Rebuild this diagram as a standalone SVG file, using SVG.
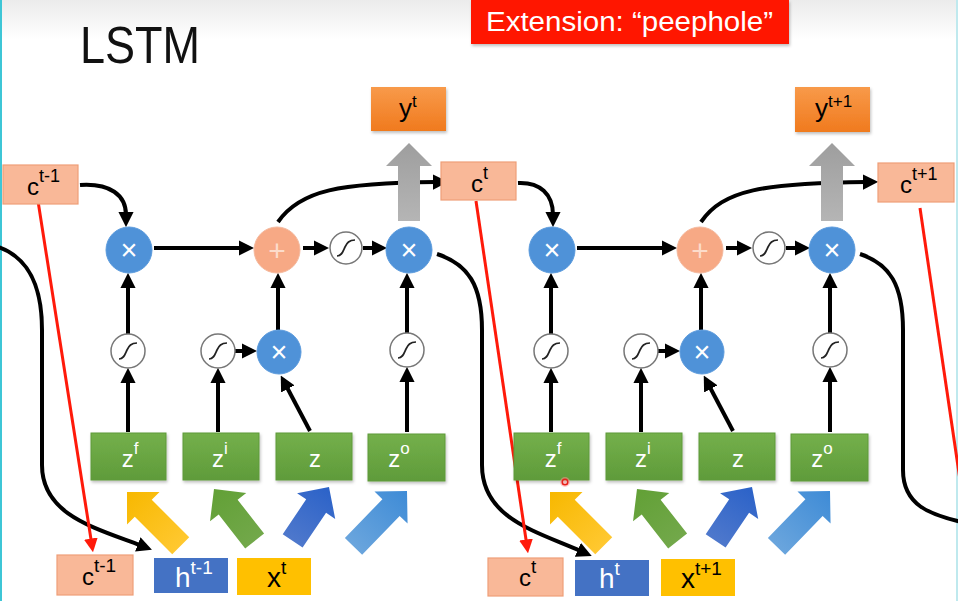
<svg xmlns="http://www.w3.org/2000/svg" width="958" height="601" viewBox="0 0 958 601">
<defs>
<style>
text{font-family:"Liberation Sans",Arial,sans-serif}
.conn{fill:none;stroke:#000;stroke-width:4;marker-end:url(#ah)}
.cnoarrow{fill:none;stroke:#000;stroke-width:4}
.red{fill:none;stroke:#FF1A0A;stroke-width:3;marker-end:url(#rh)}
.mul circle{fill:#4F92D8;stroke:#5C9BDD;stroke-width:1}
.mul text{fill:#fff;font-size:29px;text-anchor:middle}
.plus circle{fill:#F7A985;stroke:#F4B99E;stroke-width:1}
.plus text{fill:#FCDCCB;font-size:30px;text-anchor:middle}
.sig circle{fill:#fff;stroke:#777;stroke-width:1.5}
.gbox rect{fill:url(#gGreen);stroke:#5E9A3A;stroke-width:1;filter:url(#sh)}
.gbox text{fill:#fff;font-size:24px;text-anchor:middle}
.cbox rect{fill:#F9B898;stroke:#EE9E78;stroke-width:1.2}
.cbox text{fill:#000;font-size:24px}
.gray{fill:url(#gGray)}
</style>
<marker id="ah" viewBox="0 0 10 10" refX="2" refY="5" markerWidth="3.8" markerHeight="3.8" orient="auto"><path d="M0,0 L10,5 L0,10 z" fill="#000"/></marker>
<marker id="rh" viewBox="0 0 10 10" refX="2" refY="5" markerWidth="4.6" markerHeight="4.6" orient="auto"><path d="M0,0 L10,5 L0,10 z" fill="#FF1A0A"/></marker>
<linearGradient id="gGreen" x1="0" y1="0" x2="0" y2="1"><stop offset="0" stop-color="#74B04B"/><stop offset="1" stop-color="#5F9B3A"/></linearGradient>
<linearGradient id="gGray" x1="0" y1="0" x2="0" y2="1"><stop offset="0" stop-color="#9E9E9E"/><stop offset="1" stop-color="#B5B5B5"/></linearGradient>
<linearGradient id="gOrange" x1="0" y1="0" x2="0" y2="1"><stop offset="0" stop-color="#F89A4A"/><stop offset="1" stop-color="#F07A1E"/></linearGradient>
<linearGradient id="gTop" x1="0" y1="0" x2="0" y2="1"><stop offset="0" stop-color="#EBEBEB"/><stop offset="1" stop-color="#FFFFFF"/></linearGradient>
<linearGradient id="gYel" x1="0" y1="0" x2="0" y2="1"><stop offset="0" stop-color="#F7B800"/><stop offset="1" stop-color="#FFC830"/></linearGradient>
<linearGradient id="gGrn" x1="0" y1="0" x2="0" y2="1"><stop offset="0" stop-color="#62A036"/><stop offset="1" stop-color="#72A84A"/></linearGradient>
<linearGradient id="gDB" x1="0" y1="0" x2="0" y2="1"><stop offset="0" stop-color="#2B62C8"/><stop offset="1" stop-color="#4E78CC"/></linearGradient>
<linearGradient id="gLB" x1="0" y1="0" x2="0" y2="1"><stop offset="0" stop-color="#3E8BD6"/><stop offset="1" stop-color="#6AA5DD"/></linearGradient>
<filter id="sh" x="-10%" y="-10%" width="130%" height="140%"><feDropShadow dx="1" dy="2" stdDeviation="1.5" flood-color="#000" flood-opacity="0.25"/></filter>
<path id="sigS" d="M-9,8 C-4,8 -3,3 -1,-1 C1,-5 3,-8 9,-8" fill="none" stroke="#222" stroke-width="1.7"/>
</defs>

<!-- background -->
<rect x="0" y="0" width="958" height="601" fill="#fff"/>
<rect x="0" y="0" width="958" height="40" fill="url(#gTop)"/>
<rect x="0" y="0" width="2" height="601" fill="#3EC6D6"/>
<rect x="956" y="0" width="2" height="601" fill="#BFE9EE"/>

<!-- title and banner -->
<g id="title"><text x="80" y="63" font-size="52" fill="#111" textLength="120" lengthAdjust="spacingAndGlyphs">LSTM</text></g>
<g id="banner">
<rect x="471" y="0" width="318" height="44" fill="#FF1500" filter="url(#sh)"/>
<text x="486" y="31" font-size="27" fill="#fff" textLength="287" lengthAdjust="spacingAndGlyphs">Extension: “peephole”</text>
</g>

<!-- connectors -->
<g id="connectors">
<!-- cell 1 -->
<path class="conn" d="M80,185 C110,183 126,195 126,215"/>
<path class="conn" d="M154,248 L242,248"/>
<path class="conn" d="M303,248 L317,248"/>
<path class="conn" d="M363,248 L375,248"/>
<path class="conn" d="M278,222 C300,190 340,183 436,182"/>
<path class="conn" d="M128,334 L128,285"/>
<path class="conn" d="M128,432 L128,380"/>
<path class="conn" d="M218,432 L218,380"/>
<path class="conn" d="M235,351 L245,351"/>
<path class="conn" d="M310,431 L286.4,386.2"/>
<path class="conn" d="M278,330 L278,285"/>
<path class="conn" d="M407,432 L407,379"/>
<path class="conn" d="M407,333 L407,285"/>
<path class="conn" d="M-5,246 C25,255 42,280 42,330 L42,465 C42,515 95,528 140.6,545.4"/>
<path class="conn" d="M437,254 C468,264 482,285 482,330 L482,465 C482,518 535,531 580.6,551"/>
<!-- cell 2 -->
<path class="conn" d="M518,183 C540,182 553,194 553,215"/>
<path class="conn" d="M577,248 L665,248"/>
<path class="conn" d="M726,248 L740,248"/>
<path class="conn" d="M786,248 L798,248"/>
<path class="conn" d="M701,222 C723,190 763,183 866,182"/>
<path class="conn" d="M551,334 L551,285"/>
<path class="conn" d="M551,432 L551,380"/>
<path class="conn" d="M641,432 L641,380"/>
<path class="conn" d="M658,351 L668,351"/>
<path class="conn" d="M733,431 L709.4,386.2"/>
<path class="conn" d="M701,330 L701,285"/>
<path class="conn" d="M830,432 L830,379"/>
<path class="conn" d="M830,333 L830,285"/>
<path class="cnoarrow" d="M860,254 C890,264 903,285 903,330 L903,470 C903,505 930,515 962,522"/>
<!-- peephole red lines -->
<path class="red" d="M38,201 L91.3,541.3"/>
<path class="red" d="M476,201 L526.4,542.3"/>
<path fill="none" stroke="#FF1A0A" stroke-width="3" d="M920,208 L985,650"/>
</g>

<!-- top cell-state boxes -->
<g id="c_tm1_top" class="cbox"><rect x="3" y="165" width="75" height="39"/><text x="27" y="195">c<tspan font-size="18" dy="-13">t-1</tspan></text></g>
<g id="c_t_top" class="cbox"><rect x="441" y="162" width="75" height="38"/><text x="471" y="192">c<tspan font-size="18" dy="-13">t</tspan></text></g>
<g id="c_tp1_top" class="cbox"><rect x="878" y="163" width="76" height="39"/><text x="900" y="193">c<tspan font-size="18" dy="-13">t+1</tspan></text></g>

<!-- outputs -->
<g id="y_t"><rect x="371" y="87" width="75" height="44" fill="url(#gOrange)" filter="url(#sh)"/><text x="399" y="117" font-size="26">y<tspan font-size="17" dy="-10">t</tspan></text></g>
<g id="y_tp1"><rect x="795" y="87" width="75" height="45" fill="url(#gOrange)" filter="url(#sh)"/><text x="815" y="117" font-size="26">y<tspan font-size="17" dy="-10">t+1</tspan></text></g>
<g id="out_arrow1"><polygon class="gray" points="409,143 432,166 420,166 420,221 398,221 398,166 386,166"/></g>
<g id="out_arrow2"><polygon class="gray" points="832,143 855,166 843,166 843,221 821,221 821,166 809,166"/></g>

<!-- cell 1 operators -->
<g id="mult_f1" class="mul" transform="translate(129,250)"><circle r="23"/><text y="10">×</text></g>
<g id="plus1" class="plus" transform="translate(277,250)"><circle r="23"/><text y="11">+</text></g>
<g id="sig_c1" class="sig" transform="translate(346,248)"><circle r="16"/><use href="#sigS"/></g>
<g id="mult_o1" class="mul" transform="translate(409,250)"><circle r="23"/><text y="10">×</text></g>
<g id="sig_f1" class="sig" transform="translate(128,351)"><circle r="17"/><use href="#sigS"/></g>
<g id="sig_i1" class="sig" transform="translate(218,351)"><circle r="17"/><use href="#sigS"/></g>
<g id="mult_i1" class="mul" transform="translate(279,352)"><circle r="22"/><text y="10">×</text></g>
<g id="sig_o1" class="sig" transform="translate(407,350)"><circle r="17"/><use href="#sigS"/></g>

<!-- cell 2 operators -->
<g id="mult_f2" class="mul" transform="translate(552,250)"><circle r="23"/><text y="10">×</text></g>
<g id="plus2" class="plus" transform="translate(700,250)"><circle r="23"/><text y="11">+</text></g>
<g id="sig_c2" class="sig" transform="translate(769,248)"><circle r="16"/><use href="#sigS"/></g>
<g id="mult_o2" class="mul" transform="translate(832,250)"><circle r="23"/><text y="10">×</text></g>
<g id="sig_f2" class="sig" transform="translate(551,351)"><circle r="17"/><use href="#sigS"/></g>
<g id="sig_i2" class="sig" transform="translate(641,351)"><circle r="17"/><use href="#sigS"/></g>
<g id="mult_i2" class="mul" transform="translate(702,352)"><circle r="22"/><text y="10">×</text></g>
<g id="sig_o2" class="sig" transform="translate(830,350)"><circle r="17"/><use href="#sigS"/></g>

<!-- gate boxes cell 1 -->
<g id="zf1" class="gbox"><rect x="91" y="433" width="75" height="47"/><text x="130" y="467">z<tspan font-size="17" dy="-13">f</tspan></text></g>
<g id="zi1" class="gbox"><rect x="183" y="433" width="76" height="47"/><text x="220" y="467">z<tspan font-size="17" dy="-13">i</tspan></text></g>
<g id="z1" class="gbox"><rect x="276" y="433" width="76" height="47"/><text x="315" y="467">z</text></g>
<g id="zo1" class="gbox"><rect x="368" y="434" width="77" height="47"/><text x="399" y="467">z<tspan font-size="17" dy="-13">o</tspan></text></g>
<!-- gate boxes cell 2 -->
<g id="zf2" class="gbox"><rect x="514" y="433" width="75" height="47"/><text x="553" y="467">z<tspan font-size="17" dy="-13">f</tspan></text></g>
<g id="zi2" class="gbox"><rect x="606" y="433" width="76" height="47"/><text x="643" y="467">z<tspan font-size="17" dy="-13">i</tspan></text></g>
<g id="z2" class="gbox"><rect x="699" y="433" width="76" height="47"/><text x="738" y="467">z</text></g>
<g id="zo2" class="gbox"><rect x="791" y="434" width="77" height="47"/><text x="822" y="467">z<tspan font-size="17" dy="-13">o</tspan></text></g>

<!-- input block arrows cell 1 -->
<g id="in_f1"><polygon fill="url(#gYel)" transform="translate(127,492) rotate(-45)" points="0,0 23,23 12,23 12,76 -12,76 -12,23 -23,23"/></g>
<g id="in_i1"><polygon fill="url(#gGrn)" transform="translate(214,489) rotate(-38)" points="0,0 23,23 12,23 12,66 -12,66 -12,23 -23,23"/></g>
<g id="in_z1"><polygon fill="url(#gDB)" transform="translate(329,487) rotate(34)" points="0,0 23,23 12,23 12,65 -12,65 -12,23 -23,23"/></g>
<g id="in_o1"><polygon fill="url(#gLB)" transform="translate(407,491) rotate(44)" points="0,0 23,23 12,23 12,77 -12,77 -12,23 -23,23"/></g>
<!-- input block arrows cell 2 -->
<g id="in_f2"><polygon fill="url(#gYel)" transform="translate(550,492) rotate(-45)" points="0,0 23,23 12,23 12,76 -12,76 -12,23 -23,23"/></g>
<g id="in_i2"><polygon fill="url(#gGrn)" transform="translate(637,489) rotate(-38)" points="0,0 23,23 12,23 12,66 -12,66 -12,23 -23,23"/></g>
<g id="in_z2"><polygon fill="url(#gDB)" transform="translate(752,487) rotate(34)" points="0,0 23,23 12,23 12,65 -12,65 -12,23 -23,23"/></g>
<g id="in_o2"><polygon fill="url(#gLB)" transform="translate(830,491) rotate(44)" points="0,0 23,23 12,23 12,77 -12,77 -12,23 -23,23"/></g>

<!-- bottom inputs cell 1 -->
<g id="c_tm1_in" class="cbox"><rect x="57" y="555" width="76" height="40"/><text x="82" y="585" font-size="28">c<tspan font-size="19" dy="-13">t-1</tspan></text></g>
<g id="h_tm1"><rect x="154" y="558" width="74" height="35" fill="#4472C4"/><text x="175" y="587" font-size="28" fill="#fff">h<tspan font-size="19" dy="-13">t-1</tspan></text></g>
<g id="x_t"><rect x="237" y="558" width="74" height="37" fill="#FFC000"/><text x="267" y="587" font-size="28" fill="#000">x<tspan font-size="19" dy="-13">t</tspan></text></g>
<!-- bottom inputs cell 2 -->
<g id="c_t_in" class="cbox"><rect x="488" y="558" width="75" height="38"/><text x="519" y="586" font-size="28">c<tspan font-size="19" dy="-13">t</tspan></text></g>
<g id="h_t"><rect x="575" y="560" width="74" height="36" fill="#4472C4"/><text x="599" y="588" font-size="28" fill="#fff">h<tspan font-size="19" dy="-13">t</tspan></text></g>
<g id="x_tp1"><rect x="661" y="559" width="74" height="37" fill="#FFC000"/><text x="681" y="588" font-size="28" fill="#000">x<tspan font-size="19" dy="-13">t+1</tspan></text></g>

<!-- cursor mark -->
<g id="cursor"><circle cx="565" cy="482" r="5" fill="#FF9A9A" opacity="0.5"/><circle cx="565" cy="482" r="2.8" fill="none" stroke="#E8201A" stroke-width="1.5"/></g>
</svg>
